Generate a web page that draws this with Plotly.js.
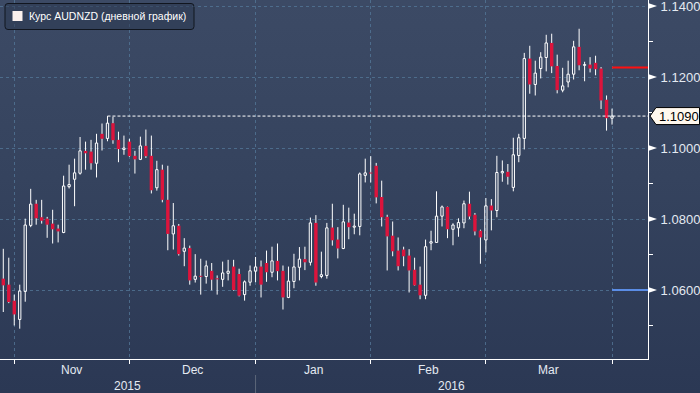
<!DOCTYPE html>
<html><head><meta charset="utf-8">
<script src="https://cdn.plot.ly/plotly-3.0.1.min.js"></script>
<style>
html,body{margin:0;padding:0;}
body{width:700px;height:393px;overflow:hidden;background:linear-gradient(180deg,#3c4a65 0%,#35435e 45%,#2b3854 100%);}
#chart{width:700px;height:393px;}
</style></head><body><div id="chart"></div>
<script>
// AUDNZD daily candles, 29 Oct 2015 (index 0) .. 1 Apr 2016 (index 111), weekdays only
const openP = [1.0632,1.0615,1.0570,1.0517,1.0596,1.0782,1.0843,1.0805,1.0801,1.0787,
1.0773,1.0762,1.0891,1.0912,1.0929,1.0992,1.0990,1.0957,1.1040,1.1027,
1.1070,1.1023,1.0996,1.1018,1.0978,1.0968,1.1006,1.0978,1.0888,1.0939,
1.0854,1.0758,1.0781,1.0709,1.0718,1.0630,1.0640,1.0638,1.0654,1.0633,
1.0630,1.0647,1.0666,1.0645,1.0587,1.0622,1.0653,1.0666,1.0676,1.0650,
1.0682,1.0654,1.0579,1.0624,1.0664,1.0687,1.0678,1.0789,1.0638,1.0641,
1.0776,1.0742,1.0717,1.0790,1.0777,1.0779,1.0923,1.0931,1.0950,1.0862,
1.0806,1.0753,1.0711,1.0714,1.0697,1.0657,1.0615,1.0585,1.0732,1.0734,
1.0808,1.0834,1.0771,1.0775,1.0789,1.0843,1.0812,1.0767,1.0741,1.0838,
1.0824,1.0930,1.0933,1.0889,1.0979,1.1027,1.1252,1.1179,1.1224,1.1255,
1.1296,1.1231,1.1163,1.1186,1.1208,1.1285,1.1233,1.1235,1.1240,1.1224,
1.1136,1.1084];
const highP = [1.0716,1.0691,1.0587,1.0615,1.0801,1.0885,1.0854,1.0854,1.0806,1.0826,
1.0784,1.0922,1.0953,1.0970,1.1031,1.1018,1.1023,1.1040,1.1069,1.1090,
1.1088,1.1046,1.1035,1.1026,1.0992,1.1032,1.1052,1.1035,1.0964,1.0953,
1.0950,1.0845,1.0786,1.0746,1.0725,1.0701,1.0688,1.0683,1.0676,1.0641,
1.0680,1.0685,1.0685,1.0660,1.0627,1.0669,1.0693,1.0683,1.0711,1.0722,
1.0731,1.0669,1.0666,1.0702,1.0721,1.0722,1.0804,1.0811,1.0708,1.0789,
1.0843,1.0777,1.0840,1.0832,1.0815,1.0931,1.0970,1.0977,1.0958,1.0908,
1.0812,1.0793,1.0748,1.0722,1.0715,1.0691,1.0666,1.0742,1.0767,1.0878,
1.0838,1.0835,1.0788,1.0802,1.0852,1.0877,1.0817,1.0770,1.0859,1.0856,
1.0978,1.0965,1.0955,1.1029,1.1040,1.1268,1.1288,1.1246,1.1270,1.1319,
1.1322,1.1263,1.1226,1.1246,1.1302,1.1336,1.1243,1.1256,1.1260,1.1228,
1.1148,1.1111];
const lowP = [1.0538,1.0563,1.0500,1.0491,1.0567,1.0777,1.0784,1.0787,1.0747,1.0731,
1.0734,1.0760,1.0886,1.0836,1.0925,1.0939,1.0939,1.0917,1.0993,1.1019,
1.1012,1.0960,1.0981,1.0975,1.0928,1.0966,1.0972,1.0872,1.0880,1.0847,
1.0712,1.0714,1.0697,1.0667,1.0615,1.0621,1.0587,1.0618,1.0599,1.0587,
1.0609,1.0627,1.0598,1.0582,1.0570,1.0612,1.0622,1.0579,1.0623,1.0636,
1.0627,1.0545,1.0577,1.0605,1.0627,1.0656,1.0669,1.0612,1.0633,1.0632,
1.0725,1.0689,1.0715,1.0743,1.0757,1.0754,1.0903,1.0903,1.0844,1.0779,
1.0655,1.0695,1.0655,1.0667,1.0593,1.0612,1.0574,1.0574,1.0712,1.0733,
1.0779,1.0746,1.0726,1.0750,1.0774,1.0800,1.0754,1.0674,1.0706,1.0768,
1.0805,1.0905,1.0897,1.0878,1.0960,1.0996,1.1153,1.1148,1.1196,1.1216,
1.1211,1.1154,1.1157,1.1171,1.1193,1.1219,1.1188,1.1213,1.1205,1.1110,
1.1049,1.1066];
const closeP = [1.0613,1.0566,1.0531,1.0597,1.0783,1.0842,1.0802,1.0795,1.0784,1.0771,
1.0765,1.0893,1.0897,1.0930,1.0992,1.0985,1.0957,1.1014,1.1026,1.1070,
1.1022,1.0997,1.1000,1.0977,1.0968,1.1006,1.0977,1.0881,1.0939,1.0854,
1.0758,1.0781,1.0701,1.0718,1.0627,1.0639,1.0637,1.0668,1.0629,1.0630,
1.0648,1.0653,1.0600,1.0584,1.0623,1.0654,1.0665,1.0615,1.0650,1.0682,
1.0653,1.0579,1.0625,1.0665,1.0687,1.0678,1.0789,1.0621,1.0643,1.0775,
1.0740,1.0717,1.0792,1.0777,1.0780,1.0927,1.0930,1.0928,1.0861,1.0805,
1.0751,1.0709,1.0667,1.0695,1.0655,1.0613,1.0585,1.0722,1.0736,1.0808,
1.0834,1.0771,1.0783,1.0790,1.0843,1.0807,1.0765,1.0748,1.0837,1.0824,
1.0931,1.0934,1.0919,1.0981,1.1029,1.1252,1.1179,1.1211,1.1256,1.1296,
1.1230,1.1163,1.1175,1.1208,1.1285,1.1233,1.1235,1.1224,1.1222,1.1134,
1.1084,1.1090];

const monthStarts = [2, 23, 46, 67, 88, 111];      // first trading day of Nov, Dec, Jan, Feb, Mar, Apr
const monthLabels = ['Nov', 'Dec', 'Jan', 'Feb', 'Mar'];
const yearLabels = ['2015', '2016'];
const yearStart2016 = 46;
const yTicks = [1.06, 1.08, 1.10, 1.12, 1.14];
const yMinorTicks = [1.05, 1.07, 1.09, 1.11, 1.13];
const lastPrice = 1.1090;
const lastPriceFrom = 19;
const redLevel = 1.1227;
const blueLevel = 1.0600;
const legendText = 'Курс AUDNZD (дневной график)';

const X_RANGE = [-0.6, 117.56];
const Y_RANGE = [1.04056, 1.1417];
const PW = 648, PH = 359;           // plot area in px
const UP = '#ffffff', DOWN = '#dc143c';
const GRID = 'rgba(82,118,150,0.8)';
const TXT = '#e4eaf2';
const FONT = 'Liberation Sans, Arial, sans-serif';

const idx = openP.map((_, i) => i);

// wicks: split so they do not cross hollow bodies
const wx = [], wy = [];
idx.forEach(i => {
  const top = Math.max(openP[i], closeP[i]), bot = Math.min(openP[i], closeP[i]);
  wx.push(i, i, null, i, i, null);
  wy.push(highP[i], top, null, bot, lowP[i], null);
});
const upI = idx.filter(i => closeP[i] >= openP[i]);
const dnI = idx.filter(i => closeP[i] < openP[i]);

const traces = [
  {type: 'scatter', mode: 'lines', x: wx, y: wy, line: {color: UP, width: 1}, hoverinfo: 'skip', connectgaps: false},
  {type: 'bar', x: upI, base: upI.map(i => openP[i]), y: upI.map(i => closeP[i] - openP[i]), width: 0.42,
   marker: {color: 'rgba(0,0,0,0)', line: {color: UP, width: 1}}, hoverinfo: 'skip'},
  {type: 'bar', x: dnI, base: dnI.map(i => closeP[i]), y: dnI.map(i => openP[i] - closeP[i]), width: 0.62,
   marker: {color: DOWN, line: {width: 0}}, hoverinfo: 'skip'}
];

const px = v => v / PW, py = v => v / PH;   // pixel -> paper fraction
const dyPix = (Y_RANGE[1] - Y_RANGE[0]) / PH; // data per pixel

const shapes = [];
// legend box (rounded)
const bx0 = px(5), bx1 = px(194), by0 = 1 - py(3.5), by1 = 1 - py(29.5), r = px(3), ry = py(3);
shapes.push({type: 'path', xref: 'paper', yref: 'paper', layer: 'above',
  path: `M${bx0 + r},${by0} L${bx1 - r},${by0} Q${bx1},${by0} ${bx1},${by0 - ry} L${bx1},${by1 + ry} Q${bx1},${by1} ${bx1 - r},${by1} L${bx0 + r},${by1} Q${bx0},${by1} ${bx0},${by1 + ry} L${bx0},${by0 - ry} Q${bx0},${by0} ${bx0 + r},${by0} Z`,
  fillcolor: 'rgba(44,56,80,0.55)', line: {color: '#11161f', width: 1}});
shapes.push({type: 'rect', xref: 'paper', yref: 'paper', layer: 'above',
  x0: px(12.5), x1: px(22.5), y0: 1 - py(11), y1: 1 - py(21), fillcolor: '#fbf1ee', line: {width: 0}});
// tick triangles on right axis
yTicks.forEach(v => {
  shapes.push({type: 'path', xref: 'paper', yref: 'y', layer: 'above',
    path: `M1,${v + 3 * dyPix} L${1 + px(9)},${v} L1,${v - 3 * dyPix} Z`,
    fillcolor: '#ffffff', line: {width: 0}});
});
// level lines
shapes.push({type: 'line', xref: 'x', yref: 'y', x0: lastPriceFrom, x1: X_RANGE[1], y0: lastPrice, y1: lastPrice,
  line: {color: '#ffffff', width: 1, dash: '3px,2px'}, layer: 'above'});
shapes.push({type: 'line', xref: 'x', yref: 'y', x0: monthStarts[5], x1: X_RANGE[1], y0: redLevel, y1: redLevel,
  line: {color: '#ff1010', width: 2}, layer: 'above'});
shapes.push({type: 'line', xref: 'x', yref: 'y', x0: monthStarts[5], x1: X_RANGE[1], y0: blueLevel, y1: blueLevel,
  line: {color: '#5b8de6', width: 2}, layer: 'above'});
// last-price tag
const h = 8.5 * dyPix;
shapes.push({type: 'path', xref: 'paper', yref: 'y', layer: 'above',
  path: `M${1 + px(2)},${lastPrice} L${1 + px(8)},${lastPrice + h} L${1 + px(51.5)},${lastPrice + h} L${1 + px(51.5)},${lastPrice - h} L${1 + px(8)},${lastPrice - h} Z`,
  fillcolor: '#fff8ee', line: {color: '#000000', width: 1}});
// year separator
shapes.push({type: 'line', xref: 'x', yref: 'paper', x0: yearStart2016, x1: yearStart2016, y0: -py(16), y1: -py(34),
  line: {color: '#5d6779', width: 1}});

const annotations = [];
annotations.push({xref: 'paper', yref: 'paper', x: px(27), y: 1 - py(16.5), xanchor: 'left', yanchor: 'middle',
  text: legendText, showarrow: false, font: {family: FONT, size: 10.5, color: '#ffffff'}});
annotations.push({xref: 'paper', yref: 'y', x: 1 + px(9), y: lastPrice, xanchor: 'left', yanchor: 'middle',
  text: lastPrice.toFixed(4), showarrow: false, font: {family: FONT, size: 13, color: '#000000'}});
monthLabels.forEach((m, k) => {
  annotations.push({xref: 'x', yref: 'paper', x: (monthStarts[k] + monthStarts[k + 1]) / 2, y: 0, yshift: -11,
    xanchor: 'center', yanchor: 'middle', text: m, showarrow: false, font: {family: FONT, size: 12, color: TXT}});
});
const yearPos = [(X_RANGE[0] + yearStart2016) / 2, (yearStart2016 + X_RANGE[1]) / 2];
yearLabels.forEach((yl, k) => {
  annotations.push({xref: 'x', yref: 'paper', x: yearPos[k], y: 0, yshift: -27,
    xanchor: 'center', yanchor: 'middle', text: yl, showarrow: false, font: {family: FONT, size: 12, color: TXT}});
});

const layout = {
  width: 700, height: 393,
  margin: {l: 0, r: 52, t: 0, b: 34, pad: 0},
  paper_bgcolor: 'rgba(0,0,0,0)', plot_bgcolor: 'rgba(0,0,0,0)',
  showlegend: false, barmode: 'overlay', hovermode: false,
  xaxis: {range: X_RANGE, tickmode: 'array', tickvals: monthStarts, ticktext: monthStarts.map(() => ''),
    ticks: 'outside', ticklen: 4, tickcolor: '#ffffff', tickwidth: 1,
    showline: true, linecolor: '#ffffff', linewidth: 1,
    showgrid: true, gridcolor: GRID, griddash: '3px,3px', gridwidth: 1, zeroline: false, fixedrange: true},
  yaxis: {side: 'right', range: Y_RANGE, tickmode: 'array', tickvals: yTicks, ticktext: yTicks.map(v => v.toFixed(4)),
    ticks: 'outside', ticklen: 9, tickcolor: 'rgba(0,0,0,0)', ticklabeloverflow: 'allow',
    tickfont: {family: FONT, size: 13, color: TXT},
    showline: true, linecolor: '#ffffff', linewidth: 1,
    showgrid: true, gridcolor: GRID, griddash: '3px,3px', gridwidth: 1, zeroline: false, fixedrange: true,
    minor: {tickvals: yMinorTicks, ticks: 'outside', ticklen: 4, tickcolor: '#ffffff', tickwidth: 1, showgrid: false}},
  shapes: shapes, annotations: annotations
};

Plotly.newPlot('chart', traces, layout, {staticPlot: true, displayModeBar: false});
</script></body></html>
